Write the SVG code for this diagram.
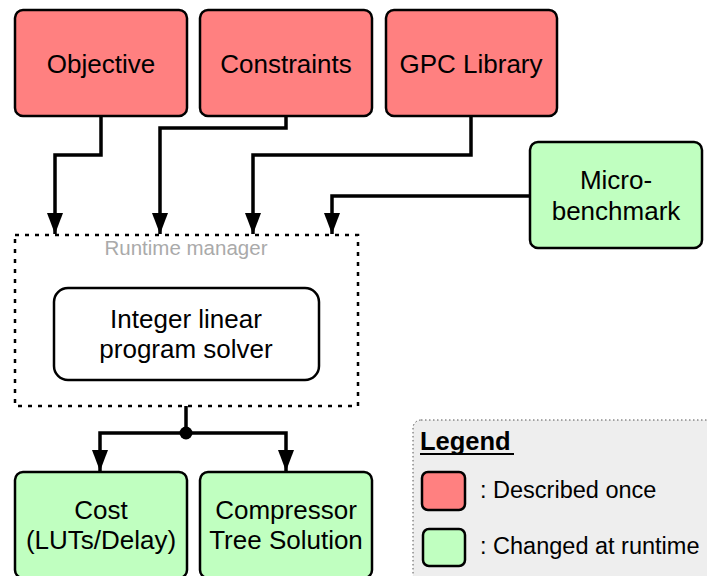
<svg xmlns="http://www.w3.org/2000/svg" width="707" height="576" viewBox="0 0 707 576">
<defs>
<style>
text{font-family:"Liberation Sans",Arial,Helvetica,sans-serif;fill:#000;text-anchor:middle}
.lbl{font-size:26px}
.red{fill:#FF8080;stroke:#000;stroke-width:2.5}
.grn{fill:#C0FFC0;stroke:#000;stroke-width:2.5}
.edge{fill:none;stroke:#000;stroke-width:3.5}
.leg{font-size:23.5px;text-anchor:start}
</style>
<marker id="ah" viewBox="0 0 22 16" refX="21" refY="8" markerUnits="userSpaceOnUse" markerWidth="22" markerHeight="16" orient="auto">
<path d="M0,0 L21,8 L0,16 Z" fill="#000"/>
</marker>
</defs>
<rect width="707" height="576" fill="#fff"/>

<g id="legend">
<rect x="413" y="420" width="310" height="180" rx="8" fill="#eeeeee" stroke="#555" stroke-width="1" stroke-dasharray="1.5 2.5"/>
<text x="420" y="450" style="font-size:25.5px;font-weight:bold;text-anchor:start">Legend</text>
<line x1="420" y1="454" x2="514" y2="454" stroke="#000" stroke-width="2"/>
<rect x="422" y="472" width="43" height="38" rx="6" class="red"/>
<text x="480" y="498" class="leg">: Described once</text>
<rect x="423" y="529" width="42" height="37" rx="6" class="grn"/>
<text x="480" y="554" class="leg">: Changed at runtime</text>
</g>

<g id="runtime-manager">
<rect x="15" y="235" width="343" height="171" fill="none" stroke="#000" stroke-width="2.5" stroke-dasharray="4 6"/>
<text x="186" y="255" style="font-size:20.5px;fill:#aaaaaa">Runtime manager</text>
</g>

<g id="connectors">
<path class="edge" d="M101,116 V155 H55 V234" marker-end="url(#ah)"/>
<path class="edge" d="M286,116 V128 H160 V234" marker-end="url(#ah)"/>
<path class="edge" d="M471,116 V155 H253 V234" marker-end="url(#ah)"/>
<path class="edge" d="M530,196 H332 V234" marker-end="url(#ah)"/>
<path class="edge" d="M186,406 V433 H100 V471" marker-end="url(#ah)"/>
<path class="edge" d="M186,433 H286 V471" marker-end="url(#ah)"/>
<circle cx="186" cy="433" r="6.5" fill="#000"/>
</g>

<g id="objective">
<rect x="15" y="10" width="172" height="106" rx="8" class="red"/>
<text x="101" y="73" class="lbl">Objective</text>
</g>
<g id="constraints">
<rect x="200" y="10" width="172" height="106" rx="8" class="red"/>
<text x="286" y="73" class="lbl">Constraints</text>
</g>
<g id="gpc-library">
<rect x="386" y="10" width="171" height="106" rx="8" class="red"/>
<text x="471" y="73" class="lbl">GPC Library</text>
</g>
<g id="micro-benchmark">
<rect x="530" y="142" width="172" height="106" rx="8" class="grn"/>
<text x="616" y="189" class="lbl">Micro-</text>
<text x="616" y="220" class="lbl">benchmark</text>
</g>
<g id="ilp-solver">
<rect x="54" y="288" width="265" height="92" rx="14" fill="#fff" stroke="#000" stroke-width="2.5"/>
<text x="186" y="328" class="lbl">Integer linear</text>
<text x="186" y="358" class="lbl">program solver</text>
</g>
<g id="cost">
<rect x="15" y="472" width="172" height="106" rx="8" class="grn"/>
<text x="101" y="519" class="lbl">Cost</text>
<text x="101" y="549" class="lbl">(LUTs/Delay)</text>
</g>
<g id="compressor-tree">
<rect x="200" y="472" width="172" height="106" rx="8" class="grn"/>
<text x="286" y="519" class="lbl">Compressor</text>
<text x="286" y="549" class="lbl">Tree Solution</text>
</g>
</svg>
